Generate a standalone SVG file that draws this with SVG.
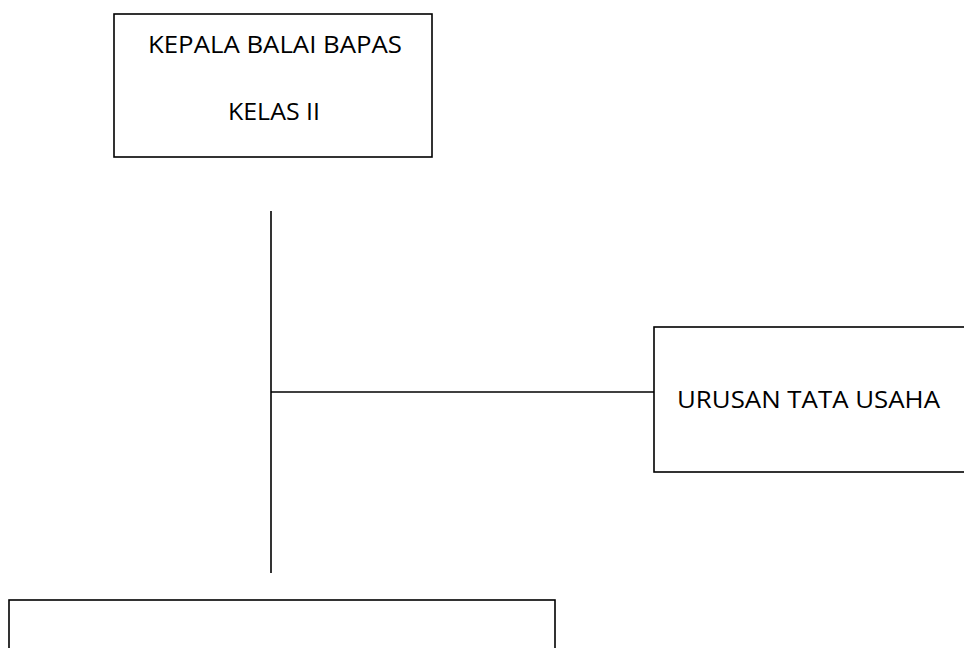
<svg xmlns="http://www.w3.org/2000/svg" width="964" height="648" viewBox="0 0 964 648">
<style>
.box{fill:#fff;stroke:#000;stroke-width:1.6}
.lbl{font-family:"Open Sans","Noto Sans","Liberation Sans",sans-serif;font-size:23.5px;fill:#000}
.conn{stroke:#000;stroke-width:1.6;fill:none}
</style>
<rect width="964" height="648" fill="#fff"/>
<g id="connectors">
<line class="conn" x1="271" y1="211" x2="271" y2="573"/>
<line class="conn" x1="271" y1="392" x2="654" y2="392"/>
</g>
<g id="kepala">
<rect class="box" x="114" y="14" width="318" height="143"/>
<text class="lbl" x="148" y="53" textLength="254" lengthAdjust="spacingAndGlyphs">KEPALA BALAI BAPAS</text>
<text class="lbl" x="228" y="120" textLength="92" lengthAdjust="spacingAndGlyphs">KELAS II</text>
</g>
<g id="tata-usaha">
<rect class="box" x="654" y="327" width="320" height="145"/>
<text class="lbl" x="677" y="408" textLength="263" lengthAdjust="spacingAndGlyphs">URUSAN TATA USAHA</text>
</g>
<g id="bottom-box">
<rect class="box" x="9" y="600" width="546" height="60"/>
</g>
</svg>
